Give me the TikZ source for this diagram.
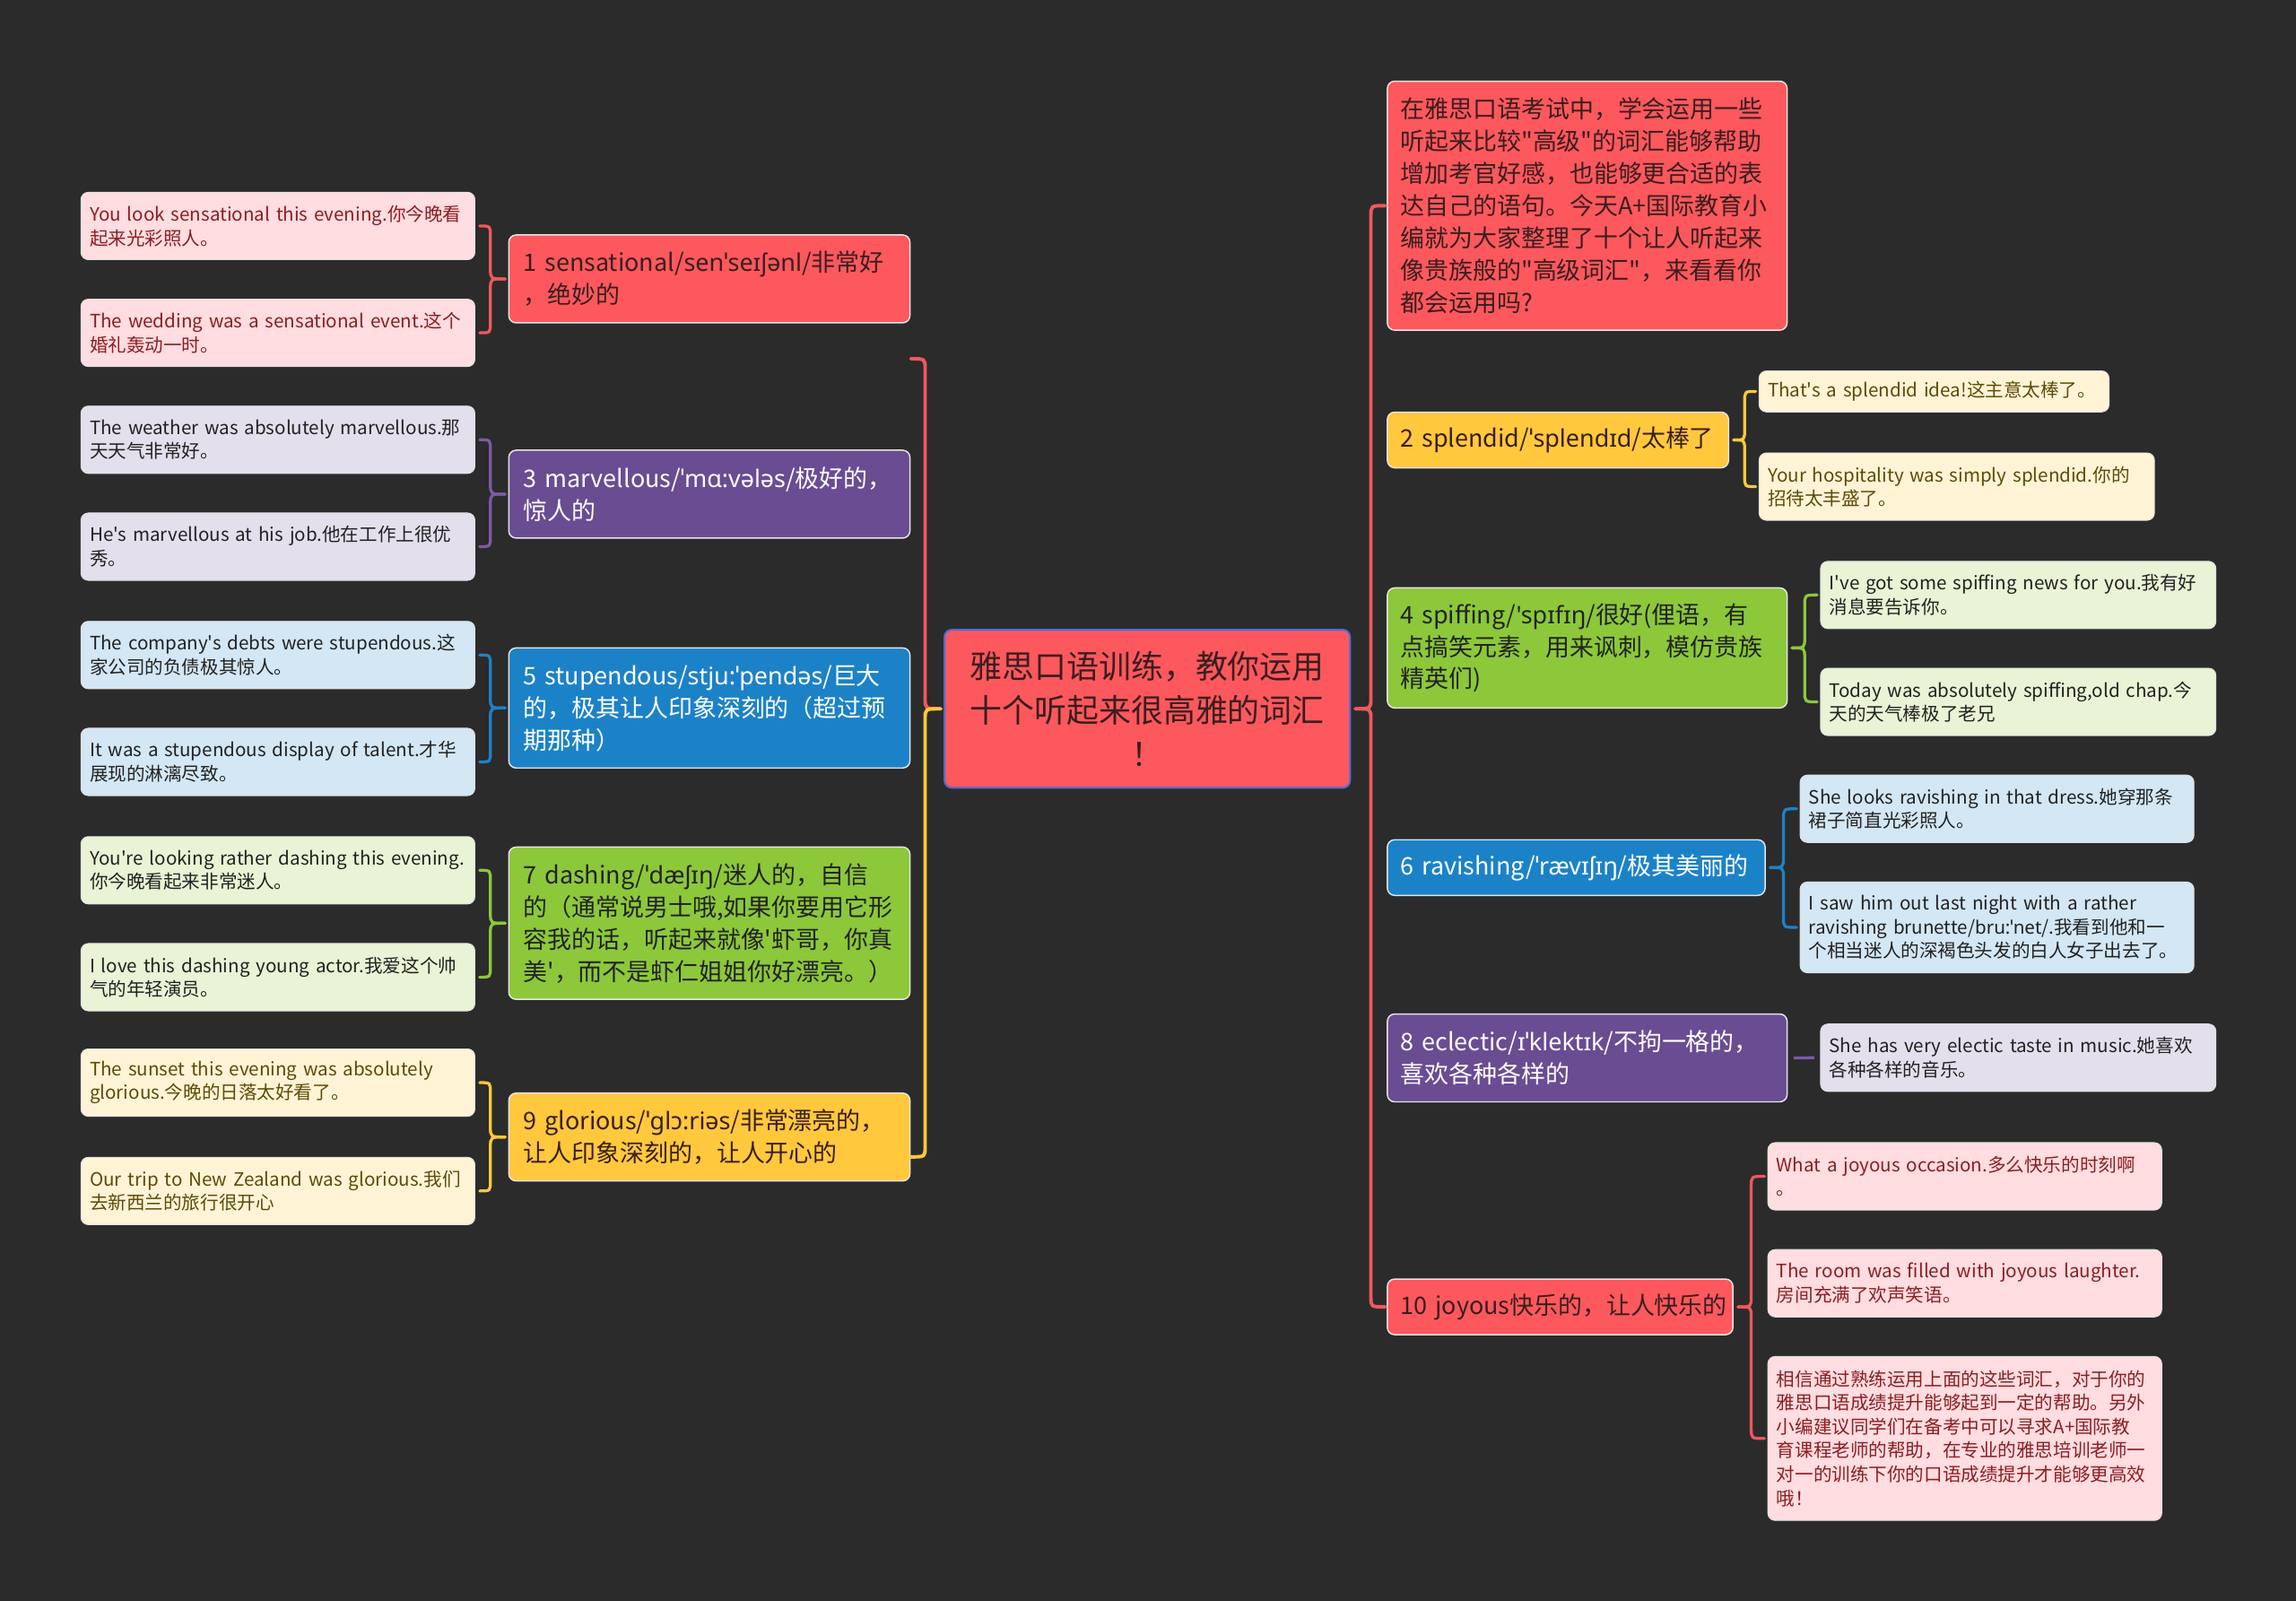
\documentclass[tikz,border=0pt]{standalone}
\usepackage{fontspec}
\setmainfont{Noto Sans CJK SC}[Ligatures=TeXOff]
\newfontfamily\ipaf{Noto Sans}[Ligatures=TeXOff]
\usetikzlibrary{calc}
\definecolor{bg}{HTML}{2B2B2B}
\definecolor{cred}{HTML}{FC585D}
\definecolor{cpur}{HTML}{6A4C93}
\definecolor{cblu}{HTML}{1C82C8}
\definecolor{cgrn}{HTML}{8CC83A}
\definecolor{cyel}{HTML}{FFC83D}
\definecolor{lred}{HTML}{FFDDE0}
\definecolor{lpur}{HTML}{E3DFED}
\definecolor{lblu}{HTML}{D3E7F4}
\definecolor{lgrn}{HTML}{E8F4D5}
\definecolor{lyel}{HTML}{FFF4D6}
\definecolor{tdark}{HTML}{3A1E1E}
\definecolor{tred}{HTML}{8B1E22}
\definecolor{tbrn}{HTML}{5E4A08}
\definecolor{tblk}{HTML}{222222}
\definecolor{bred}{HTML}{F0585D}
\definecolor{bpur}{HTML}{7A5AA8}
\definecolor{bcen}{HTML}{4A6CD4}
\newcommand\hb[5]{\draw[#1] let \p1=(#2), \p2=(#3), \n1={\x2+#4*(\x1-\x2)} in
  (\p2) .. controls ({\n1*1pt},\y2) .. ({\n1*1pt},{\y2-(#5pt)}) -- ({\n1*1pt},{\y1+(#5pt)}) .. controls ({\n1*1pt},\y1) .. (\p1);}
\newcommand\fb[5]{\hb{#1}{#2}{#3}{#5}{7}\hb{#1}{#2}{#4}{#5}{-7}}
\tikzset{
  leafbase/.style={anchor=north west, rectangle, rounded corners=5pt, inner xsep=6pt, inner ysep=2pt,
    align=left, font=\fontsize{12.6}{16.3}\selectfont, draw=white!88!black, line width=0.6pt},
  lvbase/.style={anchor=north west, rectangle, rounded corners=5pt, inner xsep=10pt, inner ysep=2pt,
    align=left, font=\fontsize{16.5}{22}\selectfont, draw=white!90!black, line width=0.9pt},
  redleaf/.style={leafbase, fill=lred, text=tred},
  purleaf/.style={leafbase, fill=lpur, text=tblk},
  bluleaf/.style={leafbase, fill=lblu, text=tblk},
  grnleaf/.style={leafbase, fill=lgrn, text=tblk},
  yelleaf/.style={leafbase, fill=lyel, text=tbrn},
  redlv/.style={lvbase, fill=cred, text=tdark},
  purlv/.style={lvbase, fill=cpur, text=white},
  blulv/.style={lvbase, fill=cblu, text=white},
  grnlv/.style={lvbase, fill=cgrn, text=tblk},
  yellv/.style={lvbase, fill=cyel, text=tdark},
  mainbr/.style={line width=2.4pt, line cap=round},
  smallbr/.style={line width=2pt, line cap=round},
}
\begin{document}
\begin{tikzpicture}[x=1pt,y=-1pt]
\fill[bg] (0,0) rectangle (1568,1093);
\useasboundingbox (0,0) rectangle (1568,1093);

% central
\node[rectangle, rounded corners=5pt, fill=cred, draw=bcen, line width=1.2pt, minimum width=277pt, minimum height=108pt,
  align=center, text=tdark, font=\fontsize{22}{30}\selectfont] (ctr) at (783.5,484)
  {雅思口语训练，教你运用\\十个听起来很高雅的词汇\\！};

% left level-1
\node[redlv, text width=254pt, minimum height=60pt] (n1) at (347,160)
  {\mbox{1 sensational/{\ipaf senˈseɪʃənl}/非常好}\\\mbox{，绝妙的}};
\node[purlv, text width=254pt, minimum height=60pt] (n3) at (347,307)
  {\mbox{3 marvellous/{\ipaf ˈmɑ:vələs}/极好的，}\\\mbox{惊人的}};
\node[blulv, text width=254pt, minimum height=82pt] (n5) at (347,442)
  {\mbox{5 stupendous/{\ipaf stju:ˈpendəs}/巨大}\\\mbox{的，极其让人印象深刻的（超过预}\\\mbox{期那种）}};
\node[grnlv, text width=254pt, minimum height=104pt] (n7) at (347,578)
  {\mbox{7 dashing/{\ipaf ˈdæʃɪŋ}/迷人的，自信}\\\mbox{的（通常说男士哦,如果你要用它形}\\\mbox{容我的话，听起来就像'虾哥，你真}\\\mbox{美'，而不是虾仁姐姐你好漂亮。）}};
\node[yellv, text width=254pt, minimum height=60pt] (n9) at (347,746)
  {\mbox{9 glorious/{\ipaf ˈglɔ:riəs}/非常漂亮的，}\\\mbox{让人印象深刻的，让人开心的}};

% left leaves
\node[redleaf, text width=257pt, minimum height=46pt] (n1a) at (55,131)
  {\mbox{You look sensational this evening.你今晚看}\\\mbox{起来光彩照人。}};
\node[redleaf, text width=257pt, minimum height=46pt] (n1b) at (55,204)
  {\mbox{The wedding was a sensational event.这个}\\\mbox{婚礼轰动一时。}};
\node[purleaf, text width=257pt, minimum height=46pt] (n3a) at (55,277)
  {\mbox{The weather was absolutely marvellous.那}\\\mbox{天天气非常好。}};
\node[purleaf, text width=257pt, minimum height=46pt] (n3b) at (55,350)
  {\mbox{He's marvellous at his job.他在工作上很优}\\\mbox{秀。}};
\node[bluleaf, text width=257pt, minimum height=46pt] (n5a) at (55,424)
  {\mbox{The company's debts were stupendous.这}\\\mbox{家公司的负债极其惊人。}};
\node[bluleaf, text width=257pt, minimum height=46pt] (n5b) at (55,497)
  {\mbox{It was a stupendous display of talent.才华}\\\mbox{展现的淋漓尽致。}};
\node[grnleaf, text width=257pt, minimum height=46pt] (n7a) at (55,571)
  {\mbox{You're looking rather dashing this evening.}\\\mbox{你今晚看起来非常迷人。}};
\node[grnleaf, text width=257pt, minimum height=46pt] (n7b) at (55,644)
  {\mbox{I love this dashing young actor.我爱这个帅}\\\mbox{气的年轻演员。}};
\node[yelleaf, text width=257pt, minimum height=46pt] (n9a) at (55,716)
  {\mbox{The sunset this evening was absolutely}\\\mbox{glorious.今晚的日落太好看了。}};
\node[yelleaf, text width=257pt, minimum height=46pt] (n9b) at (55,790)
  {\mbox{Our trip to New Zealand was glorious.我们}\\\mbox{去新西兰的旅行很开心}};

% right level-1
\node[lvbase, fill=cred, text=tdark, inner xsep=9pt, text width=255pt, minimum height=170pt] (intro) at (947,55)
  {\mbox{在雅思口语考试中，学会运用一些}\\\mbox{听起来比较"高级"的词汇能够帮助}\\\mbox{增加考官好感，也能够更合适的表}\\\mbox{达自己的语句。今天A+国际教育小}\\\mbox{编就为大家整理了十个让人听起来}\\\mbox{像贵族般的"高级词汇"，来看看你}\\\mbox{都会运用吗?}};
\node[yellv, inner xsep=9pt, text width=215pt, minimum height=38pt] (n2) at (947,281)
  {\mbox{2 splendid/{\ipaf ˈsplendɪd}/太棒了}};
\node[grnlv, inner xsep=9pt, text width=255pt, minimum height=82pt] (n4) at (947,401)
  {\mbox{4 spiffing/{\ipaf 'spɪfɪŋ}/很好(俚语，有}\\\mbox{点搞笑元素，用来讽刺，模仿贵族}\\\mbox{精英们)}};
\node[blulv, inner xsep=9pt, text width=240pt, minimum height=38pt] (n6) at (947,573)
  {\mbox{6 ravishing/{\ipaf ˈrævɪʃɪŋ}/极其美丽的}};
\node[purlv, inner xsep=9pt, text width=255pt, minimum height=60pt] (n8) at (947,692)
  {\mbox{8 eclectic/{\ipaf ɪˈklektɪk}/不拘一格的，}\\\mbox{喜欢各种各样的}};
\node[redlv, inner xsep=9pt, text width=218pt, minimum height=38pt] (n10) at (947,873)
  {\mbox{10 joyous快乐的，让人快乐的}};

% right leaves
\node[yelleaf, text width=227pt, minimum height=28pt] (n2a) at (1201,253)
  {\mbox{That's a splendid idea!这主意太棒了。}};
\node[yelleaf, text width=258pt, minimum height=46pt] (n2b) at (1201,309)
  {\mbox{Your hospitality was simply splendid.你的}\\\mbox{招待太丰盛了。}};
\node[grnleaf, text width=258pt, minimum height=46pt] (n4a) at (1243,383)
  {\mbox{I've got some spiffing news for you.我有好}\\\mbox{消息要告诉你。}};
\node[grnleaf, text width=258pt, minimum height=46pt] (n4b) at (1243,456)
  {\mbox{Today was absolutely spiffing,old chap.今}\\\mbox{天的天气棒极了老兄}};
\node[bluleaf, text width=257pt, minimum height=46pt] (n6a) at (1229,529)
  {\mbox{She looks ravishing in that dress.她穿那条}\\\mbox{裙子简直光彩照人。}};
\node[bluleaf, text width=257pt, minimum height=62pt] (n6b) at (1229,602)
  {\mbox{I saw him out last night with a rather}\\\mbox{ravishing brunette/{\ipaf bru:ˈnet}/.我看到他和一}\\\mbox{个相当迷人的深褐色头发的白人女子出去了。}};
\node[purleaf, text width=258pt, minimum height=46pt] (n8a) at (1243,699)
  {\mbox{She has very electic taste in music.她喜欢}\\\mbox{各种各样的音乐。}};
\node[redleaf, text width=257pt, minimum height=46pt] (n10a) at (1207,780)
  {\mbox{What a joyous occasion.多么快乐的时刻啊}\\\mbox{。}};
\node[redleaf, text width=257pt, minimum height=46pt] (n10b) at (1207,853)
  {\mbox{The room was filled with joyous laughter.}\\\mbox{房间充满了欢声笑语。}};
\node[redleaf, text width=257pt, minimum height=112pt] (n10c) at (1207,926)
  {\mbox{相信通过熟练运用上面的这些词汇，对于你的}\\\mbox{雅思口语成绩提升能够起到一定的帮助。另外}\\\mbox{小编建议同学们在备考中可以寻求A+国际教}\\\mbox{育课程老师的帮助，在专业的雅思培训老师一}\\\mbox{对一的训练下你的口语成绩提升才能够更高效}\\\mbox{哦！}};

% main braces
\coordinate (LT) at (622,245);
\coordinate (LB) at (622,790);
\coordinate (LTip) at ($(ctr.west)+(-2,0)$);
\coordinate (RTip) at ($(ctr.east)+(3,0)$);
\hb{mainbr, bred}{LTip}{LT}{0.48}{7}
\hb{mainbr, cyel}{LTip}{LB}{0.48}{-7}
\fb{mainbr, bred}{RTip}{$(intro.west)+(-1,0)$}{$(n10.west)+(-1,0)$}{0.48}

% left small braces
\fb{smallbr, bred}{$(n1.west)+(-2,0)$}{$(n1a.east)+(3,0)$}{$(n1b.east)+(3,0)$}{0.42}
\fb{smallbr, bpur}{$(n3.west)+(-2,0)$}{$(n3a.east)+(3,0)$}{$(n3b.east)+(3,0)$}{0.42}
\fb{smallbr, cblu}{$(n5.west)+(-2,0)$}{$(n5a.east)+(3,0)$}{$(n5b.east)+(3,0)$}{0.42}
\fb{smallbr, cgrn}{$(n7.west)+(-2,0)$}{$(n7a.east)+(3,0)$}{$(n7b.east)+(3,0)$}{0.42}
\fb{smallbr, cyel}{$(n9.west)+(-2,0)$}{$(n9a.east)+(3,0)$}{$(n9b.east)+(3,0)$}{0.42}

% right small braces
\fb{smallbr, cyel}{$(n2.east)+(3,0)$}{$(n2a.west)+(-2,0)$}{$(n2b.west)+(-2,0)$}{0.5}
\fb{smallbr, cgrn}{$(n4.east)+(3,0)$}{$(n4a.west)+(-2,0)$}{$(n4b.west)+(-2,0)$}{0.5}
\fb{smallbr, cblu}{$(n6.east)+(3,0)$}{$(n6a.west)+(-2,0)$}{$(n6b.west)+(-2,0)$}{0.5}
\fb{smallbr, bred}{$(n10.east)+(3,0)$}{$(n10a.west)+(-2,0)$}{$(n10c.west)+(-2,0)$}{0.5}
\draw[smallbr, bpur, line cap=butt, shorten <=4pt, shorten >=4pt] (n8.east) -- (n8a.west);
\end{tikzpicture}
\end{document}
